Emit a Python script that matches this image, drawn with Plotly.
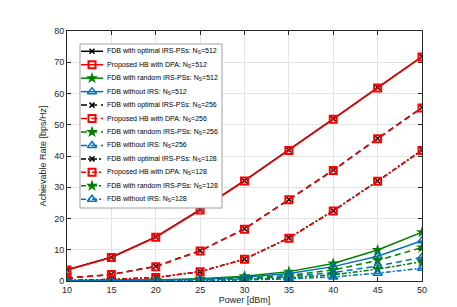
import plotly.graph_objects as go

power = [10, 15, 20, 25, 30, 35, 40, 45, 50]

opt_512 = [3.6, 7.6, 14.1, 22.8, 32.1, 41.9, 51.9, 61.9, 71.8]
hb_512 = [3.5, 7.5, 14.0, 22.7, 32.0, 41.8, 51.8, 61.8, 71.7]
rnd_512 = [0.1, 0.2, 0.35, 0.7, 1.5, 3.0, 5.6, 9.9, 15.6]
wo_512 = [0.08, 0.15, 0.3, 0.6, 1.2, 2.4, 4.6, 7.9, 12.9]

opt_256 = [0.9, 2.1, 4.7, 9.7, 16.7, 26.1, 35.5, 45.6, 55.5]
hb_256 = [0.9, 2.1, 4.6, 9.6, 16.6, 26.0, 35.4, 45.5, 55.4]
rnd_256 = [0.05, 0.1, 0.2, 0.4, 0.9, 1.8, 3.5, 6.6, 10.7]
wo_256 = [0.03, 0.08, 0.15, 0.3, 0.7, 1.4, 2.7, 4.8, 7.6]

opt_128 = [0.2, 0.5, 1.1, 3.0, 7.0, 13.8, 22.5, 32.0, 41.9]
hb_128 = [0.2, 0.5, 1.1, 3.0, 7.0, 13.7, 22.4, 31.9, 41.8]
rnd_128 = [0.02, 0.05, 0.1, 0.2, 0.5, 1.0, 2.0, 3.8, 6.2]
wo_128 = [0.01, 0.03, 0.06, 0.15, 0.35, 0.7, 1.3, 2.5, 4.1]

x_ticks = [10, 15, 20, 25, 30, 35, 40, 45, 50]
y_ticks = [0, 10, 20, 30, 40, 50, 60, 70, 80]

BLACK = "#000000"
RED = "#ff0000"
GREEN = "#008000"
BLUE = "#0072bd"

# plot area in pixels
W, H = 457, 307
L, R, T, B = 59, 43, 23, 34
PX0, PX1 = L, W - R
PY0, PY1 = H - B, T

styles = {
    "opt": dict(color=BLACK, symbol="x-thin-open", size=5, lw=1.5),
    "hb": dict(color=RED, symbol="square-open", size=7, lw=2),
    "rnd": dict(color=GREEN, symbol="star", size=9, lw=0),
    "wo": dict(color=BLUE, symbol="triangle-up-open", size=8, lw=1.5),
}


def marker(st):
    m = dict(symbol=st["symbol"], size=st["size"], color=st["color"])
    if st["lw"]:
        m["line"] = dict(width=st["lw"], color=st["color"])
    return m


fig = go.Figure()

groups = [
    ("512", "solid", opt_512, hb_512, rnd_512, wo_512),
    ("256", "6px,4px", opt_256, hb_256, rnd_256, wo_256),
    ("128", "5px,2px,2px,2px", opt_128, hb_128, rnd_128, wo_128),
]
labels = {
    "opt": "FDB with optimal IRS-PSs: ",
    "hb": "Proposed HB with DPA: ",
    "rnd": "FDB with random IRS-PSs: ",
    "wo": "FDB without IRS: ",
}

legend_items = []
for ns, dash, opt, hb, rnd, wo in groups:
    for key, vals in (("opt", opt), ("hb", hb), ("rnd", rnd), ("wo", wo)):
        st = styles[key]
        name = f"{labels[key]}N<sub>S</sub>={ns}"
        fig.add_trace(go.Scatter(
            x=power, y=vals, mode="lines+markers", name=name, showlegend=False,
            line=dict(color=st["color"], width=1.5, dash=dash),
            marker=marker(st),
        ))
        legend_items.append((name, key, dash))

# custom compact legend (on an overlay pixel axis)
LX0, LX1, LY0, LY1 = 72, 214, 36, 200
fig.add_trace(go.Scatter(
    x=[LX0, LX1, LX1, LX0, LX0], y=[LY0, LY0, LY1, LY1, LY0],
    mode="lines", fill="toself", fillcolor="white",
    line=dict(color="#a0a0a0", width=1), xaxis="x2", yaxis="y2",
    showlegend=False, hoverinfo="skip",
))
row0, step = 43.3, 13.45
for i, (name, key, dash) in enumerate(legend_items):
    st = styles[key]
    yy = row0 + i * step
    fig.add_trace(go.Scatter(
        x=[73, 95], y=[yy, yy], mode="lines", xaxis="x2", yaxis="y2",
        line=dict(color=st["color"], width=1.5, dash=dash),
        showlegend=False, hoverinfo="skip",
    ))
    fig.add_trace(go.Scatter(
        x=[84], y=[yy], mode="markers", xaxis="x2", yaxis="y2",
        marker=marker(st), showlegend=False, hoverinfo="skip",
    ))
    fig.add_annotation(
        x=96.5, y=yy, xref="x2", yref="y2", text=name, showarrow=False,
        xanchor="left", yanchor="middle",
        font=dict(family="Liberation Sans, Arial", size=7, color="#000000"),
    )

axis_common = dict(
    showline=True, linecolor="#262626", linewidth=1, mirror="ticks",
    ticks="inside", ticklen=4, tickcolor="#262626",
    showgrid=True, gridcolor="#e3e3e3", gridwidth=1, zeroline=False,
    tickfont=dict(family="Liberation Sans, Arial", size=9, color="#262626"),
)

fig.update_layout(
    width=W, height=H,
    margin=dict(l=L, r=R, t=T, b=B),
    paper_bgcolor="white", plot_bgcolor="white",
    font=dict(family="Liberation Sans, Arial", color="#262626"),
    xaxis=dict(range=[10, 50], tickvals=x_ticks,
               title=dict(text="Power [dBm]", font=dict(size=9), standoff=0),
               **axis_common),
    yaxis=dict(range=[0, 80], tickvals=y_ticks,
               title=dict(text="Achievable Rate [bps/Hz]", font=dict(size=9), standoff=6),
               **axis_common),
    xaxis2=dict(overlaying="x", range=[PX0, PX1], visible=False),
    yaxis2=dict(overlaying="y", range=[PY0, PY1], visible=False),
    showlegend=False,
)

fig.write_html("out.html")
